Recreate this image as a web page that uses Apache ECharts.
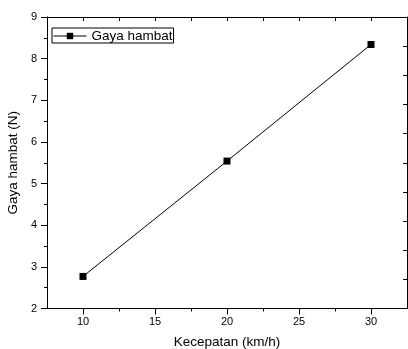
<!DOCTYPE html>
<html>
<head>
<meta charset="utf-8">
<script src="https://cdn.jsdelivr.net/npm/echarts@6/dist/echarts.min.js"></script>
<style>
html,body{margin:0;padding:0;background:#fff;}
#c{width:408px;height:349px;}
</style>
</head>
<body>
<div id="c"></div>
<script>
const seriesName = 'Gaya hambat';
const xValues = [10, 20, 30];
const yValues = [2.77, 5.54, 8.34];
const xTickLabels = [10, 15, 20, 25, 30];
const xMinorTicks = [12.5, 17.5, 22.5, 27.5];
const yTickLabels = [2, 3, 4, 5, 6, 7, 8, 9];
const xTitle = 'Kecepatan (km/h)';
const yTitle = 'Gaya hambat (N)';

const font = 'Liberation Sans, Arial, sans-serif';
const chart = echarts.init(document.getElementById('c'), null, {renderer: 'canvas'});
const lineStyle = {color: '#000', width: 1};

chart.setOption({
  animation: false,
  backgroundColor: '#fff',
  textStyle: {fontFamily: font, color: '#000'},
  grid: {left: 47, right: 1, top: 17, bottom: 40.5, containLabel: false, outerBoundsMode: 'none'},
  legend: {
    left: 52, top: 28,
    padding: [1, 1, 0, 1],
    borderColor: '#000', borderWidth: 1,
    itemWidth: 33, itemHeight: 8, itemGap: 4,
    textStyle: {fontFamily: font, fontSize: 13.5, color: '#000'},
    lineStyle: {width: 1, color: '#000'},
    data: [seriesName]
  },
  xAxis: [
    {
      type: 'value', position: 'bottom', min: 7.5, max: 32.5,
      name: xTitle, nameLocation: 'middle', nameGap: 27,
      nameTextStyle: {fontFamily: font, fontSize: 13.5, color: '#000'},
      axisLine: {show: true, onZero: false, lineStyle: lineStyle},
      axisTick: {show: true, inside: false, length: 6, customValues: xTickLabels, lineStyle: lineStyle},
      axisLabel: {show: true, margin: 8, fontFamily: font, fontSize: 11, color: '#000', customValues: xTickLabels},
      splitLine: {show: false}
    },
    {
      type: 'value', position: 'bottom', min: 7.5, max: 32.5,
      axisLine: {show: false, onZero: false},
      axisTick: {show: true, inside: false, length: 3, customValues: xMinorTicks, lineStyle: lineStyle},
      axisLabel: {show: false},
      splitLine: {show: false}
    },
    {
      type: 'value', position: 'top', min: 7.5, max: 32.5, interval: 2.5,
      axisLine: {show: true, onZero: false, lineStyle: lineStyle},
      axisTick: {show: true, inside: true, length: 4, lineStyle: lineStyle},
      axisLabel: {show: false},
      splitLine: {show: false}
    }
  ],
  yAxis: [
    {
      type: 'value', position: 'left', min: 2, max: 9, interval: 1,
      name: yTitle, nameLocation: 'middle', nameGap: 21, nameRotate: 90,
      nameTextStyle: {fontFamily: font, fontSize: 13.5, color: '#000'},
      axisLine: {show: true, onZero: false, lineStyle: lineStyle},
      axisTick: {show: true, inside: false, length: 6, lineStyle: lineStyle},
      minorTick: {show: true, splitNumber: 2, length: 3, lineStyle: lineStyle},
      axisLabel: {show: true, margin: 10, fontFamily: font, fontSize: 11, color: '#000', customValues: yTickLabels},
      splitLine: {show: false}
    },
    {
      type: 'value', position: 'right', min: 0, max: 10, interval: 1,
      axisLine: {show: true, onZero: false, lineStyle: lineStyle},
      axisTick: {show: true, inside: true, length: 4, lineStyle: lineStyle},
      axisLabel: {show: false},
      splitLine: {show: false}
    }
  ],
  series: [{
    name: seriesName,
    type: 'line',
    xAxisIndex: 0, yAxisIndex: 0,
    data: xValues.map((x, i) => [x, yValues[i]]),
    symbol: 'rect', symbolSize: 7,
    lineStyle: {color: '#000', width: 1},
    itemStyle: {color: '#000'}
  }]
});
</script>
</body>
</html>
